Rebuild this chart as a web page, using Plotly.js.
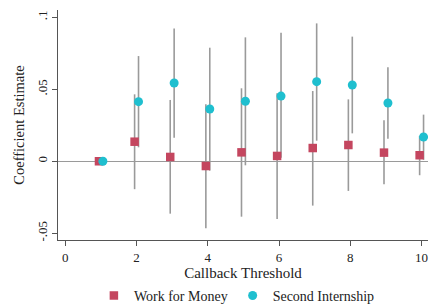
<!DOCTYPE html>
<html>
<head>
<meta charset="utf-8">
<script src="https://cdn.plot.ly/plotly-2.35.2.min.js"></script>
<style>html,body{margin:0;padding:0;background:#fff;}#chart{width:430px;height:306px;}</style>
</head>
<body>
<div id="chart"></div>
<script>
// Callback thresholds
const thresholds = [1, 2, 3, 4, 5, 6, 7, 8, 9, 10];

// Work for Money: estimate, lower CI, upper CI
const moneyEst   = [0, 0.0136, 0.0030, -0.0033, 0.0062, 0.0037, 0.0092, 0.0113, 0.0060, 0.0042];
const moneyLow   = [0, -0.0194, -0.0364, -0.0465, -0.0385, -0.0401, -0.0308, -0.0206, -0.0160, -0.0097];
const moneyHigh  = [0, 0.0465, 0.0426, 0.0396, 0.0507, 0.0472, 0.0488, 0.0430, 0.0285, 0.0176];

// Second Internship: estimate, lower CI, upper CI
const internEst  = [0, 0.0414, 0.0544, 0.0363, 0.0417, 0.0453, 0.0553, 0.0530, 0.0405, 0.0169];
const internLow  = [0, 0.0097, 0.0164, -0.0065, -0.0028, 0.0025, 0.0143, 0.0194, 0.0157, 0.0010];
const internHigh = [0, 0.0731, 0.0923, 0.0789, 0.0861, 0.0893, 0.0958, 0.0866, 0.0653, 0.0324];

// Axis ticks
const xTickVals = [0, 2, 4, 6, 8, 10];
const yTickVals = [-0.05, 0, 0.05, 0.1];
const yTickText = ['-.05', '0', '.05', '.1'];

const dodge = 0.055;
const ciColor = '#9a9a9a';
const font = 'Liberation Serif, DejaVu Serif, serif';

function ciTrace(xs, est, lo, hi) {
  return {
    x: xs, y: est, type: 'scatter', mode: 'markers', showlegend: false, hoverinfo: 'skip',
    marker: {size: 1, color: 'rgba(0,0,0,0)'},
    error_y: {type: 'data', symmetric: false,
      array: hi.map((h, i) => h - est[i]),
      arrayminus: lo.map((l, i) => est[i] - l),
      color: ciColor, thickness: 1.6, width: 0}
  };
}

const xMoney = thresholds.map(t => t - dodge);
const xIntern = thresholds.map(t => t + dodge);

const traces = [
  ciTrace(xMoney, moneyEst, moneyLow, moneyHigh),
  ciTrace(xIntern, internEst, internLow, internHigh),
  {x: xMoney, y: moneyEst, type: 'scatter', mode: 'markers', name: 'Work for Money',
   marker: {symbol: 'square', size: 8.5, color: '#c4465f'}},
  {x: xIntern, y: internEst, type: 'scatter', mode: 'markers', name: 'Second Internship',
   marker: {symbol: 'circle', size: 9, color: '#1fbfcf'}}
];

const layout = {
  width: 430, height: 306,
  margin: {l: 58, r: 2, t: 10, b: 66, autoexpand: false},
  paper_bgcolor: '#fff', plot_bgcolor: '#fff',
  font: {family: font, color: '#222', size: 13},
  showlegend: true,
  legend: {orientation: 'h', x: 0.097, xanchor: 'left', y: -0.243, yanchor: 'middle',
           font: {family: font, size: 14, color: '#222'}, itemwidth: 30, tracegroupgap: 0},
  xaxis: {
    range: [-0.205, 10.18], tickvals: xTickVals, ticks: 'outside', ticklen: 5, tickcolor: '#555',
    showline: true, linecolor: '#555', linewidth: 1, showgrid: false, zeroline: false,
    tickfont: {family: font, size: 13, color: '#222'},
    title: {text: 'Callback Threshold', font: {family: font, size: 15, color: '#222'}, standoff: 2}
  },
  yaxis: {
    range: [-0.0547, 0.1051], tickvals: yTickVals, ticktext: yTickText, tickangle: -90,
    ticks: 'outside', ticklen: 5, tickcolor: '#555',
    showline: true, linecolor: '#555', linewidth: 1, showgrid: false,
    zeroline: true, zerolinecolor: '#9a9a9a', zerolinewidth: 1,
    tickfont: {family: font, size: 13, color: '#222'},
    title: {text: 'Coefficient Estimate', font: {family: font, size: 14.5, color: '#222'}, standoff: 6}
  }
};

Plotly.newPlot('chart', traces, layout, {displayModeBar: false, staticPlot: true});
</script>
</body>
</html>
